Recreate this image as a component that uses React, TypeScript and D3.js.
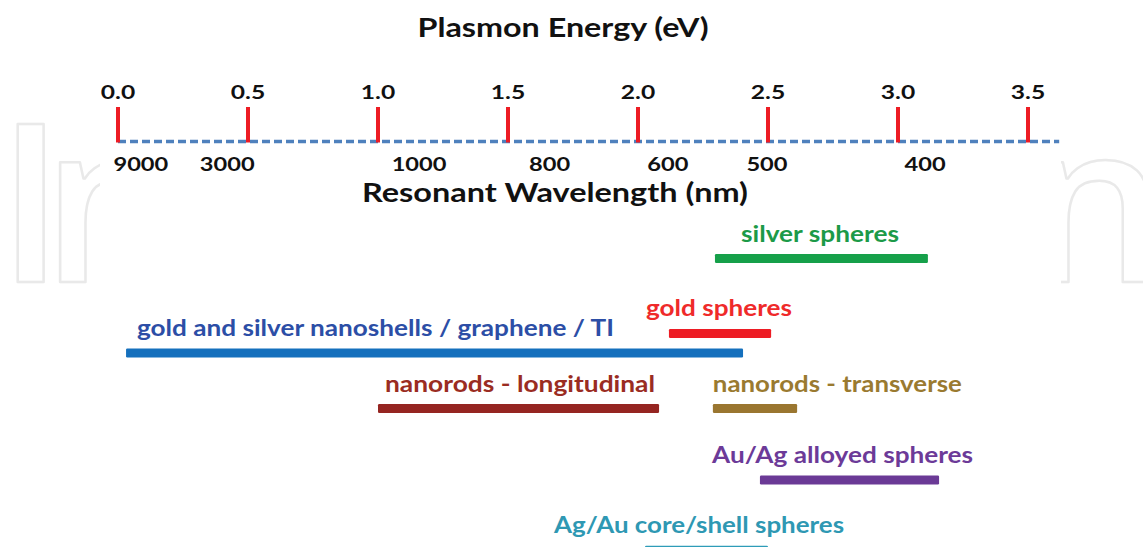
import { useEffect } from "react";
import * as d3 from "d3";

const WIDTH = 1143;
const HEIGHT = 547;

// energy axis (eV)
const energyTicks = [0, 0.5, 1.0, 1.5, 2.0, 2.5, 3.0, 3.5];
const AXIS_END = 3.62;

// wavelength labels and the energy where each one sits in the picture
const wavelengthLabels = ["9000", "3000", "1000", "800", "600", "500", "400"];
const wavelengthAt = [0.088, 0.42, 1.158, 1.66, 2.115, 2.496, 3.104];

// plasmon ranges per material (eV)
const materials = [
  "silver spheres",
  "gold spheres",
  "gold and silver nanoshells / graphene / TI",
  "nanorods - longitudinal",
  "nanorods - transverse",
  "Au/Ag alloyed spheres",
  "Ag/Au core/shell spheres",
];
const rangeStart = [2.296, 2.119, 0.031, 1.0, 2.288, 2.469, 2.027];
const rangeEnd = [3.115, 2.512, 2.404, 2.081, 2.612, 3.158, 2.5];

// layout: row of each bar, where its label starts (eV), label width
const LANE = [0, 1.056, 1.331, 2.113, 2.113, 3.12, 4.11];
const LABEL_START = [2.396, 2.031, 0.073, 1.027, 2.288, 2.285, 1.677];
const LABEL_W = [158, 146, 477, 270, 249, 261, 290];
const BAR_COLORS = ["#16a04a", "#ed1c24", "#1570bd", "#952521", "#9a7630", "#6b3a96", "#2e9cb8"];
const TEXT_COLORS = ["#1c9a48", "#ef2a2a", "#2c4ea6", "#9a2c22", "#9a7a30", "#6c3a98", "#2e98b3"];

const FONT = "Lato, 'Open Sans', sans-serif";
// number labels are drawn a little wide, as in the source figure
const numWidth = (s: string) => s.split("").reduce((w, c) => w + (c === "." ? 7 : 13.7), 0);

export default function App() {
  useEffect(() => {
    document.body.style.margin = "0";
  }, []);

  const x = d3.scaleLinear().domain([0, 3.5]).range([118, 1028]);
  const y = d3.scaleLinear().domain([0, 1]).range([258.5, 329.5]);
  const axisY = 141.5;

  return (
    <svg width={WIDTH} height={HEIGHT} style={{ display: "block", background: "#fff" }}>
      {/* faint watermark at the edges */}
      <g fontFamily="'Open Sans', sans-serif" fontWeight={600} fontSize={221} fill="#fff" stroke="#e9e9e9" strokeWidth={2.5} strokeLinejoin="round">
        <text x={-3} y={282}>I</text>
        <text x={42} y={282}>n</text>
        <text x={1025} y={282}>n</text>
      </g>
      <rect x={100} y={100} width={961} height={200} fill="#fff" />

      <text x={563} y={37} textAnchor="middle" fontFamily={FONT} fontWeight={700} fontSize={26} fill="#111" textLength={291} lengthAdjust="spacingAndGlyphs">
        Plasmon Energy (eV)
      </text>

      <line x1={x(0)} x2={x(AXIS_END)} y1={axisY} y2={axisY} stroke="#4f81bd" strokeWidth={3.5} strokeDasharray="8,4" />

      {energyTicks.map((t) => {
        const label = d3.format(".1f")(t);
        return (
          <g key={t}>
            <line x1={x(t)} x2={x(t)} y1={107} y2={axisY + 1} stroke="#ed1c24" strokeWidth={4} />
            <text x={x(t)} y={99} textAnchor="middle" fontFamily={FONT} fontWeight={700} fontSize={18.5} fill="#111" textLength={numWidth(label)} lengthAdjust="spacingAndGlyphs">
              {label}
            </text>
          </g>
        );
      })}

      {wavelengthLabels.map((w, i) => (
        <text key={w} x={x(wavelengthAt[i])} y={171} textAnchor="middle" fontFamily={FONT} fontWeight={700} fontSize={19} fill="#111" textLength={numWidth(w)} lengthAdjust="spacingAndGlyphs">
          {w}
        </text>
      ))}

      <text x={555} y={202} textAnchor="middle" fontFamily={FONT} fontWeight={700} fontSize={26} fill="#111" textLength={386} lengthAdjust="spacingAndGlyphs">
        Resonant Wavelength (nm)
      </text>

      {materials.map((m, i) => {
        const cy = y(LANE[i]);
        return (
          <g key={m}>
            <rect
              x={x(rangeStart[i])}
              y={cy - 4.5}
              width={x(rangeEnd[i]) - x(rangeStart[i])}
              height={9}
              rx={1.2}
              fill={BAR_COLORS[i]}
            />
            <text
              x={x(LABEL_START[i])}
              y={cy - 17}
              fontFamily={FONT}
              fontWeight={700}
              fontSize={23}
              fill={TEXT_COLORS[i]}
              textLength={LABEL_W[i]}
              lengthAdjust="spacingAndGlyphs"
            >
              {m}
            </text>
          </g>
        );
      })}
    </svg>
  );
}
